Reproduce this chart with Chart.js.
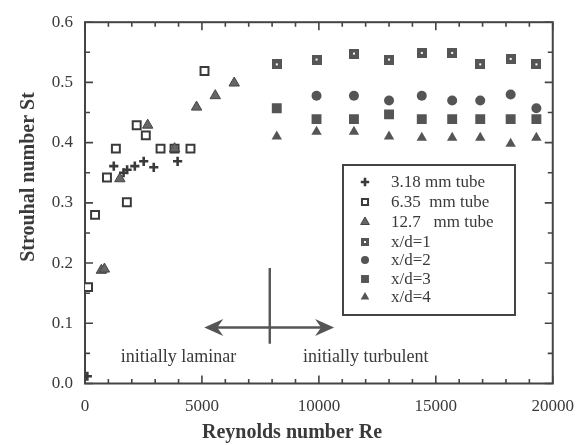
<!DOCTYPE html>
<html>
<head>
<meta charset="utf-8">
<script src="https://cdn.jsdelivr.net/npm/chart.js@4.4.1/dist/chart.umd.min.js"></script>
<style>
  html, body { margin: 0; padding: 0; background: #ffffff; }
  #c { display: block; }
</style>
</head>
<body>
<canvas id="c" width="587" height="445"></canvas>
<script>
// Axis ticks
const xTickValues = [0, 5000, 10000, 15000, 20000];
const yTickValues = [0, 0.1, 0.2, 0.3, 0.4, 0.5, 0.6];

// 3.18 mm tube
const tube318Re = [100, 1230, 1650, 1800, 2130, 2510, 2940, 3960];
const tube318St = [0.012, 0.361, 0.350, 0.355, 0.361, 0.369, 0.359, 0.369];

// 6.35 mm tube
const tube635Re = [130, 430, 940, 1320, 1790, 2210, 2600, 3230, 3830, 4510, 5110];
const tube635St = [0.160, 0.280, 0.342, 0.390, 0.301, 0.429, 0.412, 0.390, 0.390, 0.390, 0.519];

// 12.7 mm tube
const tube127Re = [700, 830, 1490, 2680, 3830, 4770, 5570, 6380];
const tube127St = [0.188, 0.190, 0.340, 0.429, 0.390, 0.459, 0.478, 0.499];

// Downstream stations x/d = 1..4
const stationRe = [8200, 9900, 11500, 13000, 14400, 15700, 16900, 18200, 19300];
const xd1St = [0.530, 0.538, 0.548, 0.538, 0.549, 0.549, 0.530, 0.539, 0.530];
const xd2Re = [9900, 11500, 13000, 14400, 15700, 16900, 18200, 19300];
const xd2St = [0.478, 0.478, 0.470, 0.478, 0.470, 0.470, 0.480, 0.457];
const xd3St = [0.457, 0.439, 0.439, 0.447, 0.439, 0.439, 0.439, 0.439, 0.439];
const xd4St = [0.410, 0.418, 0.418, 0.410, 0.408, 0.408, 0.408, 0.398, 0.408];

const ink = '#3a3a3a';
const markFill = '#555555';
const serif = "'Liberation Serif', 'Times New Roman', serif";

function pairs(xs, ys) { return xs.map((x, i) => ({ x: x, y: ys[i] })); }

// grey square with a small white centre dot
function dottedSquare(size) {
  const c = document.createElement('canvas');
  c.width = size; c.height = size;
  const g = c.getContext('2d');
  g.fillStyle = markFill;
  g.fillRect(0, 0, size, size);
  g.fillStyle = '#ffffff';
  g.fillRect(Math.round(size / 2) - 1, Math.round(size / 2) - 1, 2, 2);
  return c;
}
const dotSquareBig = dottedSquare(10);
const dotSquareSmall = dottedSquare(8);

const datasets = [
  { label: '3.18 mm tube', data: pairs(tube318Re, tube318St), pointStyle: 'cross',
    pointRadius: 4.6, borderColor: ink, pointBorderWidth: 2.6, backgroundColor: ink, order: 0,
    legendRadius: 4.2 },
  { label: '6.35  mm tube', data: pairs(tube635Re, tube635St), pointStyle: 'rect',
    pointRadius: 5.6, borderColor: ink, pointBorderWidth: 2, backgroundColor: '#ffffff', order: 1,
    legendRadius: 4.3 },
  { label: '12.7   mm tube', data: pairs(tube127Re, tube127St), pointStyle: 'triangle',
    pointRadius: 6, borderColor: '#444444', pointBorderWidth: 1, backgroundColor: '#666666', order: 0,
    legendRadius: 5 },
  { label: 'x/d=1', data: pairs(stationRe, xd1St), pointStyle: dotSquareBig,
    pointRadius: 5, borderColor: markFill, pointBorderWidth: 0, backgroundColor: markFill, order: 0,
    legendStyle: dotSquareSmall },
  { label: 'x/d=2', data: pairs(xd2Re, xd2St), pointStyle: 'circle',
    pointRadius: 5, borderColor: markFill, pointBorderWidth: 0, backgroundColor: markFill, order: 0,
    legendRadius: 4 },
  { label: 'x/d=3', data: pairs(stationRe, xd3St), pointStyle: 'rect',
    pointRadius: 7, borderColor: markFill, pointBorderWidth: 0, backgroundColor: markFill, order: 0,
    legendRadius: 5.6 },
  { label: 'x/d=4', data: pairs(stationRe, xd4St), pointStyle: 'triangle',
    pointRadius: 6, borderColor: markFill, pointBorderWidth: 0, backgroundColor: markFill, order: 0,
    legendRadius: 5 }
];

function drawMarker(ctx, ds, x, y) {
  ctx.save();
  ctx.fillStyle = ds.backgroundColor;
  ctx.strokeStyle = ds.borderColor;
  ctx.lineWidth = ds.pointBorderWidth;
  Chart.helpers.drawPoint(ctx, {
    pointStyle: ds.legendStyle || ds.pointStyle,
    radius: ds.legendRadius || ds.pointRadius,
    rotation: 0,
    borderWidth: ds.pointBorderWidth
  }, x, y);
  ctx.restore();
}

// frame with inward ticks, the regime arrows and captions, and the boxed key
const decorations = {
  id: 'decorations',
  beforeDatasetsDraw(chart) {
    const { ctx, chartArea: a, scales: { x, y } } = chart;
    ctx.save();
    ctx.strokeStyle = '#444444';
    ctx.lineWidth = 2;
    ctx.strokeRect(a.left, a.top, a.right - a.left, a.bottom - a.top);
    ctx.lineWidth = 1.6;
    ctx.beginPath();
    for (let v = 0; v <= 20000; v += 1000) {
      const px = x.getPixelForValue(v);
      const len = v % 5000 === 0 ? 8 : 4.5;
      ctx.moveTo(px, a.bottom); ctx.lineTo(px, a.bottom - len);
      ctx.moveTo(px, a.top); ctx.lineTo(px, a.top + len);
    }
    for (let i = 0; i <= 12; i++) {
      const py = y.getPixelForValue(i * 0.05);
      const len = i % 2 === 0 ? 8 : 5;
      ctx.moveTo(a.left, py); ctx.lineTo(a.left + len, py);
      ctx.moveTo(a.right, py); ctx.lineTo(a.right - len, py);
    }
    ctx.stroke();
    ctx.restore();
  },
  afterDraw(chart) {
    const { ctx, scales: { x, y } } = chart;
    ctx.save();
    // axis titles
    ctx.fillStyle = ink;
    ctx.font = 'bold 20px ' + serif;
    ctx.textAlign = 'center';
    ctx.textBaseline = 'middle';
    ctx.fillText('Reynolds number Re', 292, 433);
    ctx.save();
    ctx.translate(29, 177);
    ctx.rotate(-Math.PI / 2);
    ctx.fillText('Strouhal number St', 0, 0);
    ctx.restore();

    // laminar / turbulent arrows
    const ay = y.getPixelForValue(0.093);
    const xl = x.getPixelForValue(5100);
    const xr = x.getPixelForValue(10650);
    const xm = x.getPixelForValue(7900);
    ctx.strokeStyle = '#555555';
    ctx.fillStyle = '#555555';
    ctx.lineWidth = 2.4;
    ctx.beginPath();
    ctx.moveTo(xl + 10, ay); ctx.lineTo(xr - 10, ay);
    ctx.moveTo(xm, y.getPixelForValue(0.192)); ctx.lineTo(xm, y.getPixelForValue(0.066));
    ctx.stroke();
    function head(tip, dir) {
      ctx.beginPath();
      ctx.moveTo(tip, ay);
      ctx.lineTo(tip + dir * 19, ay - 8.5);
      ctx.lineTo(tip + dir * 13, ay);
      ctx.lineTo(tip + dir * 19, ay + 8.5);
      ctx.closePath();
      ctx.fill();
    }
    head(xl, 1);
    head(xr, -1);

    ctx.fillStyle = ink;
    ctx.font = '18px ' + serif;
    ctx.fillText('initially laminar', x.getPixelForValue(4000), y.getPixelForValue(0.043));
    ctx.fillText('initially turbulent', x.getPixelForValue(12000), y.getPixelForValue(0.043));

    // key
    const box = { l: 343, t: 165, r: 515, b: 315 };
    ctx.fillStyle = '#ffffff';
    ctx.fillRect(box.l, box.t, box.r - box.l, box.b - box.t);
    ctx.strokeStyle = '#444444';
    ctx.lineWidth = 2;
    ctx.strokeRect(box.l, box.t, box.r - box.l, box.b - box.t);
    const rows = [182, 202, 222, 242, 260, 279, 297];
    ctx.font = '17px ' + serif;
    ctx.textAlign = 'left';
    chart.data.datasets.forEach((ds, i) => {
      drawMarker(ctx, ds, 365, rows[i]);
      ctx.fillStyle = ink;
      ctx.fillText(ds.label, 391, rows[i] + 1);
    });
    ctx.restore();
  }
};

new Chart(document.getElementById('c'), {
  type: 'scatter',
  data: { datasets: datasets },
  options: {
    responsive: false,
    animation: false,
    events: [],
    layout: { padding: { left: 0, top: 14, right: 32, bottom: 0 } },
    plugins: { legend: { display: false }, tooltip: { enabled: false } },
    scales: {
      x: {
        type: 'linear', min: 0, max: 20000,
        afterBuildTicks: s => { s.ticks = xTickValues.map(v => ({ value: v })); },
        afterFit: s => { s.height = 61.5; },
        grid: { display: false, drawTicks: false },
        border: { display: false },
        ticks: { autoSkip: false, maxRotation: 0, padding: 13, color: ink,
                 font: { family: serif, size: 17 }, callback: v => String(v) }
      },
      y: {
        type: 'linear', min: 0, max: 0.6,
        afterBuildTicks: s => { s.ticks = yTickValues.map(v => ({ value: v })); },
        afterFit: s => { s.width = 85; },
        grid: { display: false, drawTicks: false },
        border: { display: false },
        ticks: { autoSkip: false, padding: 12, color: ink,
                 font: { family: serif, size: 17 }, callback: v => Number(v).toFixed(1) }
      }
    }
  },
  plugins: [decorations]
});
</script>
</body>
</html>
